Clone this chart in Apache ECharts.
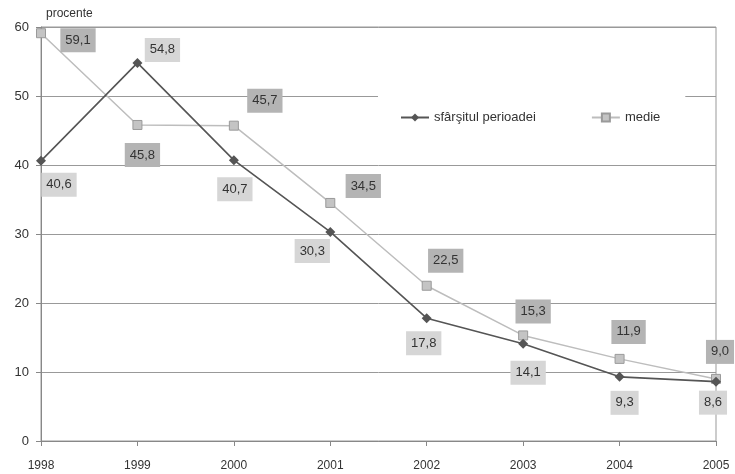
<!DOCTYPE html>
<html>
<head>
<meta charset="utf-8">
<script src="https://cdn.jsdelivr.net/npm/echarts@6/dist/echarts.min.js"></script>
<style>
  html, body { margin: 0; padding: 0; background: #fff; }
  #chart { width: 735px; height: 474px; }
</style>
</head>
<body>
<div id="chart"></div>
<script>
// Years on the horizontal axis
const years = ['1998', '1999', '2000', '2001', '2002', '2003', '2004', '2005'];
// End-of-period rate and period average, percent
const endOfPeriod = [40.6, 54.8, 40.7, 30.3, 17.8, 14.1, 9.3, 8.6];
const average = [59.1, 45.8, 45.7, 34.5, 22.5, 15.3, 11.9, 9.0];
const seriesNames = ['sfârşitul perioadei', 'medie'];

// Where each value label sits relative to its point (px)
const endOffsets = [[18, 24], [25, -13], [1, 29], [-18, 19], [-3, 25], [5, 29], [5, 26], [-3, 21]];
const avgOffsets = [[37, 7], [5, 30], [31, -25], [33, -17], [19, -25], [10, -24], [9, -27], [4, -27]];

const FONT = 'Liberation Sans, Arial, sans-serif';
const fmt = v => v.toFixed(1).replace('.', ',');

function withLabels(values, offsets, bg) {
  return values.map((v, i) => ({
    value: v,
    label: {
      show: true,
      position: 'inside',
      offset: offsets[i],
      formatter: () => fmt(v),
      backgroundColor: bg,
      padding: [6, 5, 5, 5],
      color: '#333',
      fontFamily: FONT,
      fontSize: 13
    }
  }));
}

const chart = echarts.init(document.getElementById('chart'));
chart.setOption({
  animation: false,
  backgroundColor: '#fff',
  grid: {
    left: 41, right: 19, top: 27, bottom: 33,
    show: true, borderColor: '#999', borderWidth: 1
  },
  legend: {
    left: 378, top: 90,
    padding: [21, 25, 21, 22],
    itemGap: 55,
    itemWidth: 28, itemHeight: 10,
    backgroundColor: '#fff',
    textStyle: { fontFamily: FONT, fontSize: 13, color: '#333' },
    data: seriesNames
  },
  xAxis: {
    type: 'category',
    data: years,
    boundaryGap: false,
    axisLine: { lineStyle: { color: '#888' } },
    axisTick: { show: true, length: 5, alignWithLabel: true, lineStyle: { color: '#888' } },
    axisLabel: { margin: 19, color: '#333', fontFamily: FONT, fontSize: 12, interval: 0 },
    splitLine: { show: false }
  },
  yAxis: {
    type: 'value',
    min: 0, max: 60, interval: 10,
    name: 'procente',
    nameLocation: 'end',
    nameGap: 7,
    nameTextStyle: { align: 'left', padding: [0, 0, 0, 5], color: '#333', fontFamily: FONT, fontSize: 12 },
    axisLine: { show: true, lineStyle: { color: '#888' } },
    axisTick: { show: true, length: 5, lineStyle: { color: '#888' } },
    axisLabel: { margin: 12, color: '#333', fontFamily: FONT, fontSize: 13 },
    splitLine: { lineStyle: { color: '#999', width: 1 } }
  },
  series: [
    {
      name: seriesNames[1],
      type: 'line',
      z: 2,
      data: withLabels(average, avgOffsets, '#b4b4b4'),
      symbol: 'rect',
      symbolSize: 9,
      lineStyle: { color: '#bdbdbd', width: 1.5 },
      itemStyle: { color: '#c4c4c4', borderColor: '#9a9a9a', borderWidth: 1 }
    },
    {
      name: seriesNames[0],
      type: 'line',
      z: 3,
      data: withLabels(endOfPeriod, endOffsets, '#d6d6d6'),
      symbol: 'diamond',
      symbolSize: 10,
      lineStyle: { color: '#555', width: 1.6 },
      itemStyle: { color: '#555' }
    }
  ]
});
</script>
</body>
</html>
